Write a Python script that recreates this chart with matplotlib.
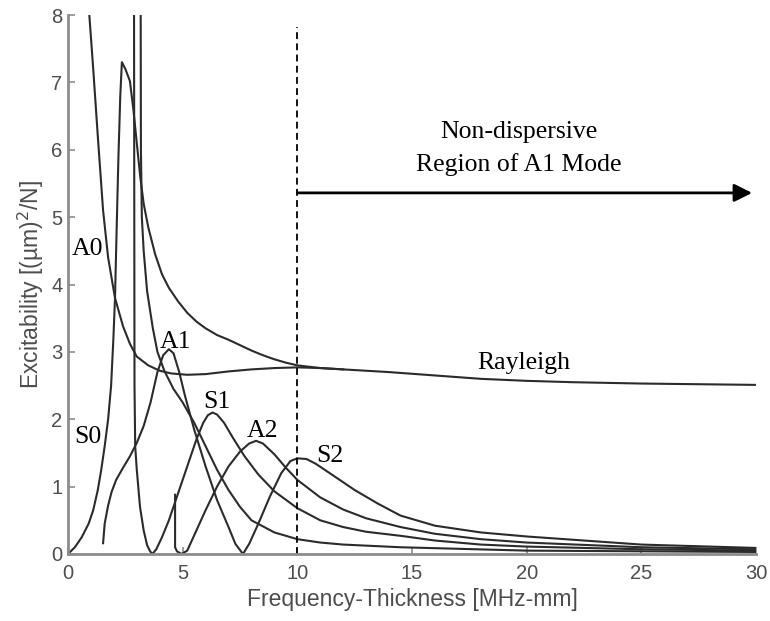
import matplotlib
matplotlib.use("Agg")
import matplotlib.pyplot as plt

# ---------------------------------------------------------------------- #
# Data (x: frequency-thickness, y: excitability)
# ---------------------------------------------------------------------- #
a0_x = [0.93, 1.1, 1.3, 1.53, 1.75, 2.05, 2.4, 2.7, 3.0, 3.5, 4.0, 4.5, 5.2, 6.0,
        7.0, 8.0, 9.0, 10.0, 11.0, 12.0]
a0_y = [8.0, 7.2, 6.2, 5.1, 4.4, 3.8, 3.38, 3.12, 2.93, 2.8, 2.72, 2.68, 2.66, 2.67,
        2.71, 2.74, 2.76, 2.77, 2.76, 2.74]

# S0 rises to its peak, then bends over into the Rayleigh asymptote
s0_x = [0.0, 0.3, 0.6, 0.9, 1.1, 1.3, 1.45, 1.6, 1.75, 1.88, 1.98, 2.05, 2.12, 2.2,
        2.28, 2.35, 2.5, 2.7, 2.85, 3.0, 3.15, 3.3, 3.5, 3.8, 4.1, 4.4, 4.8, 5.2,
        5.6, 6.0, 6.5, 7.0, 7.5, 8.0, 8.5, 9.0, 9.5, 10.0, 10.5, 11.0, 12.0, 13.0,
        14.0, 16.0, 18.0, 20.0, 22.0, 25.0, 30.0]
s0_y = [0.0, 0.1, 0.25, 0.45, 0.65, 0.95, 1.25, 1.6, 2.0, 2.5, 3.2, 3.8, 4.8, 5.9,
        6.8, 7.3, 7.2, 7.02, 6.6, 6.1, 5.6, 5.2, 4.85, 4.45, 4.15, 3.95, 3.75, 3.58,
        3.45, 3.35, 3.25, 3.18, 3.1, 3.02, 2.95, 2.89, 2.84, 2.8, 2.78, 2.76, 2.74, 2.72,
        2.7, 2.65, 2.6, 2.57, 2.55, 2.53, 2.51]

# A1 drops to zero at ~7.6 and comes back up as the S2 hump
a1_x = [1.53, 1.6, 1.75, 1.9, 2.1, 2.4, 2.7, 3.0, 3.3, 3.6, 3.9, 4.15, 4.4, 4.6,
        4.85, 5.1, 5.5, 6.0, 6.5, 7.0, 7.3, 7.63]
a1_y = [0.16, 0.45, 0.72, 0.92, 1.1, 1.28, 1.45, 1.65, 1.9, 2.25, 2.7, 2.95, 3.04, 2.98,
        2.7, 2.35, 1.85, 1.3, 0.8, 0.4, 0.15, 0.0]

s2_x = [7.63, 7.9, 8.3, 8.8, 9.3, 9.7, 10.0, 10.4, 10.8, 11.5, 12.5, 13.5, 14.5, 16.0,
        18.0, 20.0, 25.0, 30.0]
s2_y = [0.0, 0.15, 0.45, 0.85, 1.2, 1.38, 1.42, 1.41, 1.34, 1.18, 0.95, 0.75, 0.57, 0.42,
        0.32, 0.26, 0.14, 0.09]

s1_x = [2.88, 2.9, 2.93, 3.0, 3.14, 3.3, 3.45, 3.58, 3.68, 3.85, 4.1, 4.4, 4.8, 5.2,
        5.6, 5.9, 6.1, 6.3, 6.5, 6.8, 7.2, 7.7, 8.3, 9.0, 10.0, 11.0, 12.0, 13.0, 14.5,
        16.0, 18.0, 20.0, 25.0, 30.0]
s1_y = [8.0, 2.5, 1.6, 1.25, 0.7, 0.35, 0.13, 0.04, 0.0, 0.07, 0.25, 0.5, 0.9, 1.3,
        1.7, 1.95, 2.06, 2.1, 2.07, 1.95, 1.72, 1.45, 1.18, 0.93, 0.68, 0.5, 0.4, 0.33, 0.27,
        0.2, 0.14, 0.11, 0.07, 0.05]

# second S1 branch, from the cut-off line at ~3.17
s1b_x = [3.17, 3.18, 3.22, 3.3, 3.45, 3.7, 3.9, 4.2, 4.6, 5.0, 5.5, 6.0, 6.5, 7.0,
         7.5, 8.0, 9.0, 10.0, 11.0, 12.0, 14.5, 20.0, 25.0, 30.0]
s1b_y = [8.0, 6.0, 5.0, 4.5, 3.9, 3.35, 3.0, 2.72, 2.45, 2.25, 1.95, 1.6, 1.25, 0.95,
         0.7, 0.5, 0.32, 0.22, 0.17, 0.14, 0.1, 0.05, 0.04, 0.03]

a2_x = [4.67, 4.67, 4.75, 4.95, 5.2, 5.6, 6.0, 6.5, 7.0, 7.5, 7.9, 8.2, 8.5, 9.0,
        9.5, 10.0, 11.0, 12.0, 13.0, 14.5, 16.0, 18.0, 20.0, 25.0, 30.0]
a2_y = [0.88, 0.1, 0.04, 0.0, 0.05, 0.35, 0.65, 1.0, 1.3, 1.52, 1.64, 1.68, 1.64, 1.48,
        1.28, 1.1, 0.84, 0.66, 0.53, 0.4, 0.3, 0.22, 0.17, 0.1, 0.07]

curves = [(a0_x, a0_y), (s0_x, s0_y), (a1_x, a1_y), (s2_x, s2_y),
          (s1_x, s1_y), (s1b_x, s1b_y), (a2_x, a2_y)]

# curve labels: centre x and baseline y
mode_labels = ["A0", "S0", "A1", "S1", "A2", "S2", "Rayleigh"]
label_x = [0.83, 0.87, 4.67, 6.48, 8.46, 11.4, 19.87]
label_y = [4.44, 1.65, 3.06, 2.17, 1.74, 1.37, 2.74]

boundary_x = 10.0
region_lines = ["Non-dispersive", "Region of A1 Mode"]
region_x = 19.67
region_y = [6.17, 5.68]
arrow_y = 5.36
arrow_end = 29.83

# ---------------------------------------------------------------------- #
fig = plt.figure(figsize=(7.7, 6.21), dpi=100)
ax = fig.add_axes([0.0883, 0.1079, 0.8935, 0.8679])

for cx, cy in curves:
    ax.plot(cx, cy, color="#2b2b2b", lw=1.5)

ax.axvline(boundary_x, ymin=0, ymax=7.82 / 8, color="black", lw=1.3,
           linestyle=(0, (3.8, 2.4)))

ax.annotate("", xy=(arrow_end, arrow_y), xytext=(boundary_x, arrow_y),
            arrowprops=dict(arrowstyle="-|>", color="black", lw=2,
                            mutation_scale=27, shrinkA=0, shrinkB=0))
for line, ly in zip(region_lines, region_y):
    ax.text(region_x, ly, line, ha="center", va="baseline", fontsize=18.5,
            family="Liberation Serif")

for lab, lx, ly in zip(mode_labels, label_x, label_y):
    ax.text(lx, ly, lab, ha="center", va="baseline", fontsize=18.5,
            family="Liberation Serif")

ax.set_xlim(0, 30)
ax.set_ylim(0, 8)
ax.set_xticks(range(0, 31, 5))
ax.set_yticks(range(0, 9))

for side in ("top", "right"):
    ax.spines[side].set_visible(False)
for side in ("left", "bottom"):
    ax.spines[side].set_color("#8c8c8c")
    ax.spines[side].set_linewidth(2)

ax.tick_params(direction="in", length=5, width=1.2, color="#8c8c8c",
               labelcolor="#4d4d4d", labelsize=14.5)
ax.tick_params(axis="x", pad=7)
ax.tick_params(axis="y", pad=4)
for lab in ax.get_xticklabels() + ax.get_yticklabels():
    lab.set_family("Liberation Sans")

ax.set_xlabel("Frequency-Thickness [MHz-mm]", fontsize=16.5, color="#4d4d4d",
              family="Liberation Sans", labelpad=4)
ax.set_ylabel(r"Excitability [(µm)$^2$/N]", fontsize=16.5,
              color="#4d4d4d", family="Liberation Sans", labelpad=4)

fig.savefig("out.png", dpi=100)
